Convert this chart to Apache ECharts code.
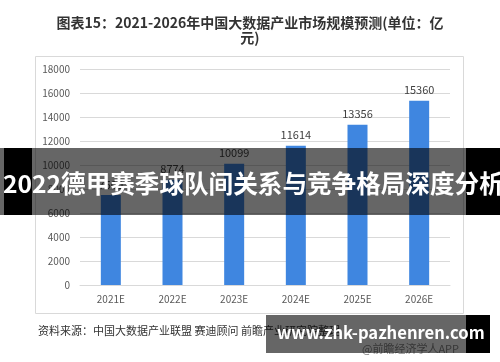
<!DOCTYPE html>
<html><head><meta charset="utf-8">
<script src="https://cdn.jsdelivr.net/npm/echarts@6/dist/echarts.min.js"></script>
<style>html,body{margin:0;padding:0;background:#fff}#c{width:500px;height:362px}</style>
</head><body><div id="c"></div>
<script>
const categories = ['2021E','2022E','2023E','2024E','2025E','2026E'];
const values = [7500, 8774, 10099, 11614, 13356, 15360];
const titleText = '图表15：2021-2026年中国大数据产业市场规模预测(单位：亿\n元)';
const sourceText = '资料来源：中国大数据产业联盟 赛迪顾问 前瞻产业研究院整理';
const bannerText = '2022德甲赛季球队间关系与竞争格局深度分析';
const siteText = 'www.zhk-pazhenren.com';
const appText = '@前瞻经济学人APP';

const font = '"Noto Sans CJK SC","Noto Sans",sans-serif';
const chart = echarts.init(document.getElementById('c'), null, {renderer:'canvas'});
chart.setOption({
  animation:false,
  title:{text:titleText,left:'center',top:10,
    textStyle:{fontSize:14,fontWeight:'bold',color:'#333',fontFamily:font,lineHeight:15}},
  grid:{left:80,right:50,top:69,bottom:77},
  xAxis:{type:'category',data:categories,
    axisLine:{lineStyle:{color:'#d9d9d9'}},axisTick:{show:false},
    axisLabel:{color:'#595959',fontSize:10,margin:9,fontFamily:font}},
  yAxis:{type:'value',min:0,max:18000,interval:2000,
    axisLine:{show:false},axisTick:{show:false},
    splitLine:{lineStyle:{color:'#d9d9d9'}},
    axisLabel:{color:'#595959',fontSize:10,margin:10,fontFamily:font,formatter:v=>String(v)}},
  series:[{type:'bar',data:values,barWidth:20,
    itemStyle:{color:'#3f86e0'},
    label:{show:true,position:'top',color:'#404040',fontSize:11,fontFamily:font,distance:5}}],
  graphic:[
    {type:'rect',z:-1,shape:{x:35.5,y:56.5,width:428,height:257},style:{fill:'none',stroke:'#d9d9d9',lineWidth:1}},
    {type:'text',left:38,top:325,style:{text:sourceText,fill:'#333',fontSize:11,fontFamily:font}},
    {type:'text',left:362,top:343,style:{text:appText,fill:'#888',fontSize:11,fontFamily:font}},
    {type:'rect',z:100,shape:{x:0,y:148,width:500,height:67},style:{fill:'rgba(0,0,0,0.6)'}},
    {type:'rect',z:100,shape:{x:4,y:148,width:28,height:67},style:{fill:'#000'}},
    {type:'rect',z:100,shape:{x:466,y:148,width:34,height:67},style:{fill:'#000'}},
    {type:'text',z:101,left:3,top:171,style:{text:bannerText,fill:'#fff',fontSize:24.6,fontWeight:'bold',fontFamily:font}},
    {type:'rect',z:100,shape:{x:266,y:315,width:200,height:38},style:{fill:'rgba(0,0,0,0.6)'}},
    {type:'rect',z:100,shape:{x:466,y:315,width:24,height:38},style:{fill:'#000'}},
    {type:'text',z:101,left:277,top:324,style:{text:siteText,fill:'#fff',fontSize:16.6,fontWeight:'bold',fontFamily:font}}
  ]
});
</script></body></html>
